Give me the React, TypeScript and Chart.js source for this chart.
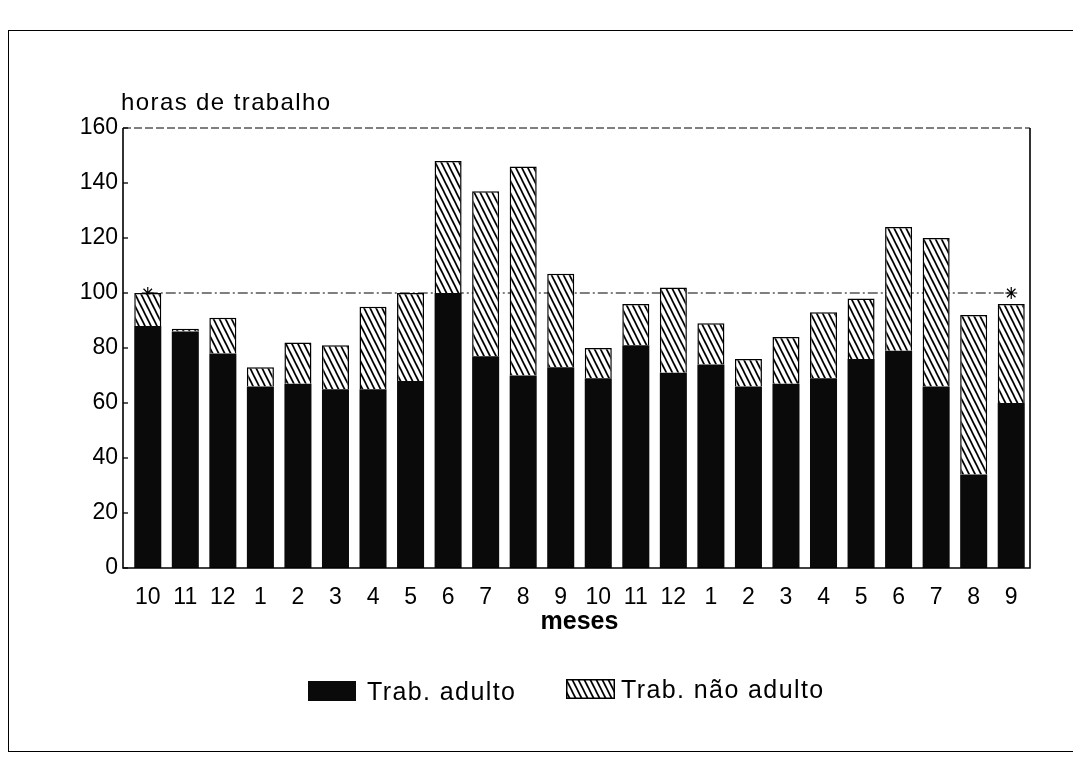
import React, { useEffect, useRef } from "react";
import { Chart, registerables } from "chart.js";

Chart.register(...registerables);

const months = ["10", "11", "12", "1", "2", "3", "4", "5", "6", "7", "8", "9", "10", "11", "12", "1", "2", "3", "4", "5", "6", "7", "8", "9"];
const adultHours = [88, 86, 78, 66, 67, 65, 65, 68, 100, 77, 70, 73, 69, 81, 71, 74, 66, 67, 69, 76, 79, 66, 34, 60];
const nonAdultHours = [12, 1, 13, 7, 15, 16, 30, 32, 48, 60, 76, 34, 11, 15, 31, 15, 10, 17, 24, 22, 45, 54, 58, 36];
const referenceLine = [100, null, null, null, null, null, null, null, null, null, null, null, null, null, null, null, null, null, null, null, null, null, null, 100];
const yTicks = [0, 20, 40, 60, 80, 100, 120, 140, 160];

const FONT = "'Liberation Sans', Arial, Helvetica, sans-serif";

function makeHatch(): CanvasPattern | string {
  const c = document.createElement("canvas");
  c.width = 6;
  c.height = 12;
  const g = c.getContext("2d");
  if (!g) return "#888";
  g.fillStyle = "#fff";
  g.fillRect(0, 0, 6, 12);
  g.strokeStyle = "#000";
  g.lineWidth = 1.7;
  for (const dx of [-6, 0, 6]) {
    g.beginPath();
    g.moveTo(dx - 1, -2);
    g.lineTo(dx + 7, 14);
    g.stroke();
  }
  const p = g.createPattern(c, "repeat");
  return p || "#888";
}

const framePlugin = {
  id: "frame",
  afterDatasetsDraw(chart: any) {
    const { ctx, chartArea } = chart;
    const axisX = chartArea.left - 6;
    ctx.save();
    ctx.strokeStyle = "#000";
    ctx.lineWidth = 1.6;
    ctx.beginPath();
    ctx.moveTo(axisX, chartArea.top);
    ctx.lineTo(axisX, chartArea.bottom);
    ctx.lineTo(chartArea.right, chartArea.bottom);
    ctx.lineTo(chartArea.right, chartArea.top);
    ctx.stroke();
    ctx.lineWidth = 1;
    ctx.setLineDash([8, 3]);
    ctx.beginPath();
    ctx.moveTo(axisX, chartArea.top);
    ctx.lineTo(chartArea.right, chartArea.top);
    ctx.stroke();
    ctx.setLineDash([]);
    const y = chart.scales.y;
    ctx.lineWidth = 1.3;
    for (const t of yTicks) {
      const py = y.getPixelForValue(t);
      ctx.beginPath();
      ctx.moveTo(axisX, py);
      ctx.lineTo(axisX + 5, py);
      ctx.stroke();
    }
    ctx.restore();
  },
};

export default function App() {
  const ref = useRef<HTMLCanvasElement | null>(null);
  const swatchRef = useRef<HTMLCanvasElement | null>(null);

  useEffect(() => {
    if (!ref.current) return;
    const hatch = makeHatch();
    const chart = new Chart(ref.current, {
      type: "bar",
      data: {
        labels: months,
        datasets: [
          {
            label: "Trab. adulto",
            data: adultHours,
            backgroundColor: "#0a0a0a",
            borderWidth: 0,
            stack: "s",
            order: 1,
            categoryPercentage: 1,
            barPercentage: 0.72,
          },
          {
            label: "Trab. não adulto",
            data: nonAdultHours,
            backgroundColor: hatch as any,
            borderColor: "#000",
            borderWidth: 1.5,
            stack: "s",
            order: 2,
            categoryPercentage: 1,
            barPercentage: 0.72,
          },
          {
            type: "line",
            label: "ref",
            data: referenceLine as any,
            stack: "ref",
            spanGaps: true,
            borderColor: "#000",
            borderWidth: 1.2,
            borderDash: [10, 3, 2, 3],
            pointStyle: "star",
            pointRadius: 6,
            pointBorderColor: "#000",
            pointBorderWidth: 1.2,
            backgroundColor: "#000",
            order: 10,
          } as any,
        ],
      },
      options: {
        animation: false,
        responsive: false,
        maintainAspectRatio: false,
        layout: { padding: { left: 0, top: 128, right: 43, bottom: 114 } },
        plugins: {
          legend: { display: false },
          tooltip: { enabled: false },
        },
        scales: {
          x: {
            stacked: true,
            grid: { display: false, drawTicks: false },
            border: { display: false },
            ticks: {
              color: "#000",
              padding: 16,
              font: { family: FONT, size: 23 },
              maxRotation: 0,
              autoSkip: false,
            },
            title: {
              display: true,
              text: "meses",
              color: "#000",
              font: { family: FONT, size: 25, weight: "bold" },
              padding: { top: 0, bottom: 11 },
            },
            afterFit: (s: any) => {
              s.height = 80;
            },
          },
          y: {
            stacked: true,
            min: 0,
            max: 160,
            grid: { display: false, drawTicks: false },
            border: { display: false },
            ticks: {
              stepSize: 20,
              color: "#000",
              padding: 11,
              font: { family: FONT, size: 23 },
            },
            afterFit: (s: any) => {
              s.width = 129;
            },
          },
        },
      },
      plugins: [framePlugin],
    });

    if (swatchRef.current) {
      const g = swatchRef.current.getContext("2d");
      if (g) {
        g.fillStyle = makeHatch() as any;
        g.fillRect(0, 0, 49, 20);
        g.strokeStyle = "#000";
        g.lineWidth = 1.5;
        g.strokeRect(0.75, 0.75, 47.5, 18.5);
      }
    }
    return () => chart.destroy();
  }, []);

  const textStyle: React.CSSProperties = {
    position: "absolute",
    fontFamily: FONT,
    fontSize: 25,
    letterSpacing: "1.4px",
    color: "#000",
    whiteSpace: "nowrap",
    lineHeight: "28px",
  };

  return (
    <div style={{ position: "absolute", left: 0, top: 0, width: 1073, height: 762, background: "#fff", overflow: "hidden" }}>
      <div style={{ position: "absolute", left: 8, top: 30, width: 1070, height: 722, border: "1.5px solid #000", boxSizing: "border-box" }} />
      <canvas ref={ref} width={1073} height={762} style={{ position: "absolute", left: 0, top: 0, width: 1073, height: 762 }} />
      <div style={{ ...textStyle, fontSize: 24, left: 121, top: 88 }}>horas de trabalho</div>
      <div style={{ position: "absolute", left: 308, top: 681, width: 48, height: 20, background: "#0a0a0a" }} />
      <div style={{ ...textStyle, left: 367, top: 677 }}>Trab. adulto</div>
      <canvas ref={swatchRef} width={49} height={20} style={{ position: "absolute", left: 566, top: 679, width: 49, height: 20 }} />
      <div style={{ ...textStyle, left: 621, top: 675 }}>Trab. não adulto</div>
    </div>
  );
}
